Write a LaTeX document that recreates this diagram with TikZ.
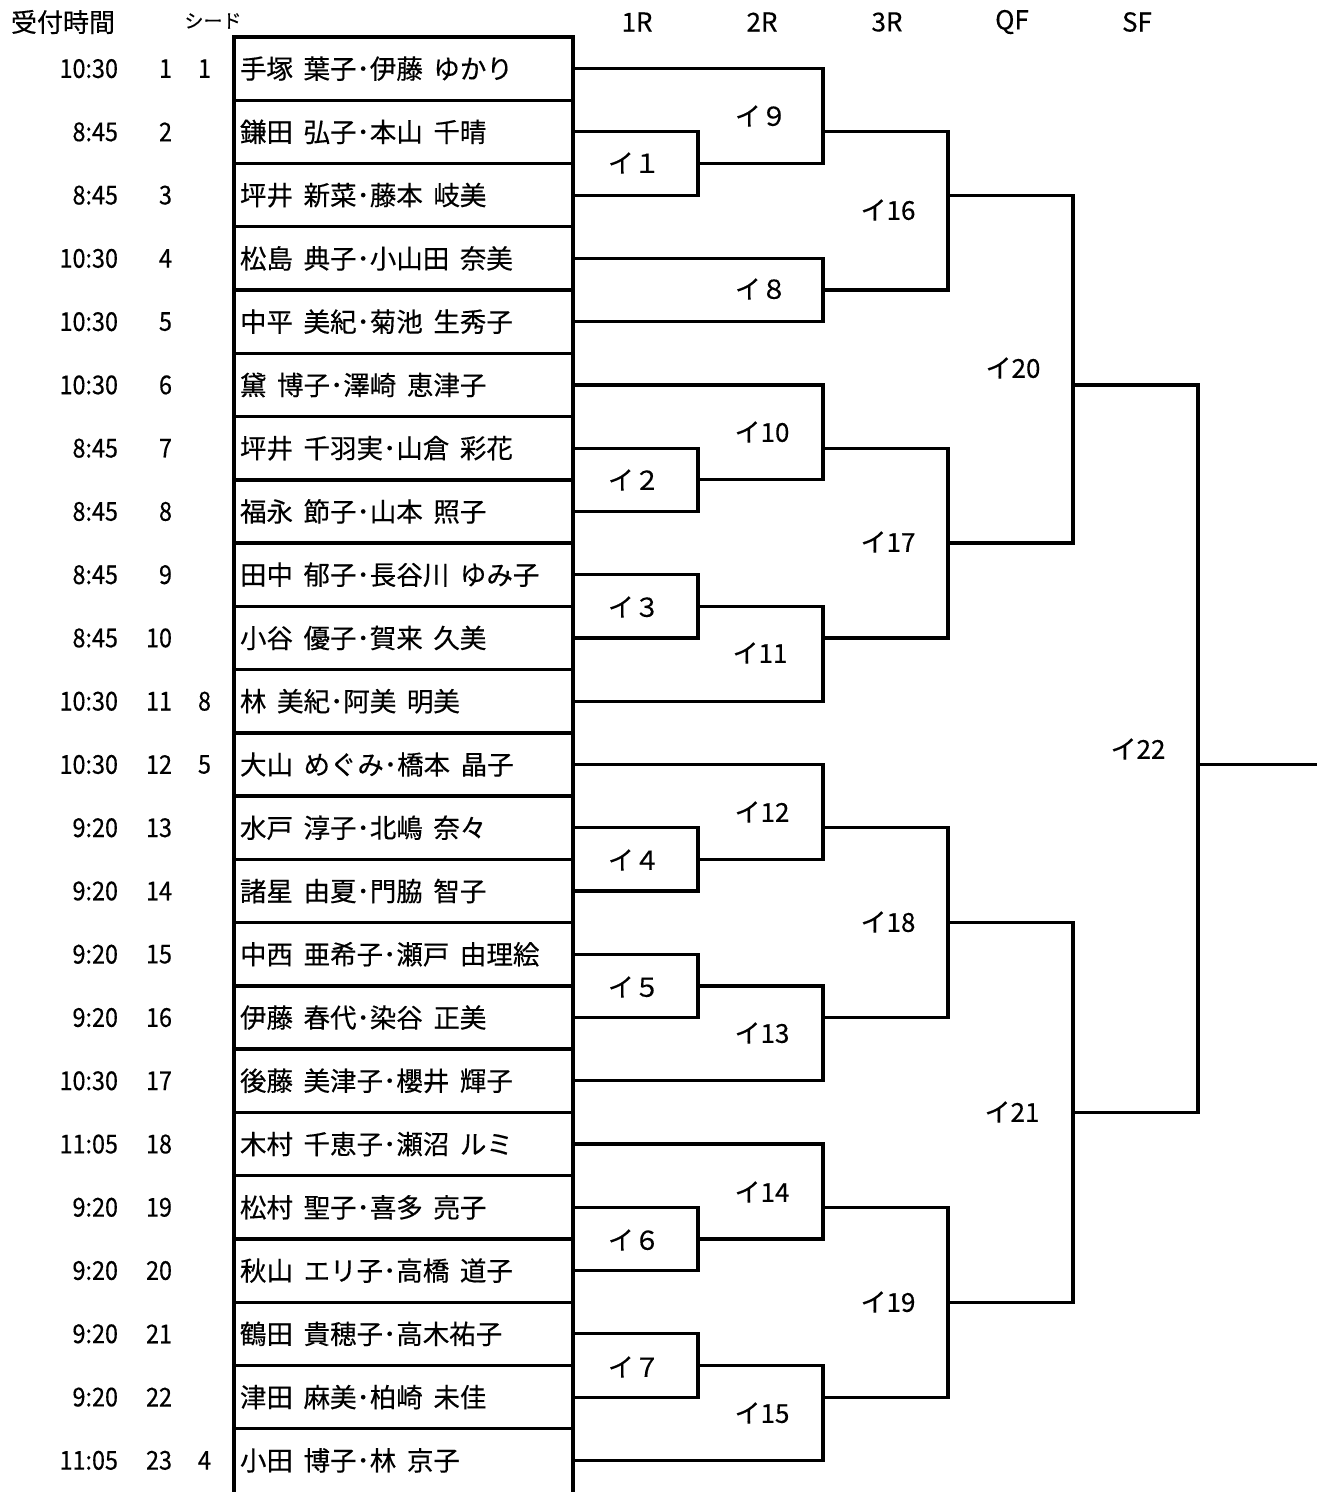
\documentclass[tikz,border=0pt]{standalone}
\usepackage{fontspec}
\setmainfont{Noto Sans CJK JP}[FakeBold=0.35]
\newfontfamily\numf{Noto Sans CJK JP}[FakeStretch=0.9,FakeBold=0.35]
\newcommand\hs{\hspace{0.4em}}
\tikzset{
  cell/.style={inner sep=0pt, outer sep=0pt, font=\numf\fontsize{26}{30}\selectfont},
  timecell/.style={cell, anchor=east},
  namecell/.style={inner xsep=6pt, inner ysep=0pt, outer sep=0pt, text width=327pt, align=left, minimum height=63.26pt, anchor=west, font=\fontsize{26.5}{30}\selectfont},
  boxline/.style={line width=3.4pt},
  bracket/.style={line width=3.2pt},
  lab/.style={inner sep=0pt, font=\fontsize{26}{30}\selectfont},
  head/.style={inner sep=0pt, font=\fontsize{26}{30}\selectfont},
  smallhead/.style={inner sep=0pt, font=\fontsize{19}{22}\selectfont},
}
\begin{document}
\begin{tikzpicture}[x=1pt,y=-1pt]
\useasboundingbox (0,0) rectangle (1317,1492);

% headers
\node[head] (h0) at (63,22) {受付時間};
\node[smallhead] (h1) at (213,21) {シード};
\node[head] (hR1) at (637,22) {1R};
\node[head] (hR2) at (762,22) {2R};
\node[head] (hR3) at (887,22) {3R};
\node[head] (hQF) at (1012,22) {QF};
\node[head] (hSF) at (1137,22) {SF};

% rows
\foreach \k/\t/\n in {
 1/10:30/{手塚\hs 葉子･伊藤\hs ゆかり},
 2/8:45/{鎌田\hs 弘子･本山\hs 千晴},
 3/8:45/{坪井\hs 新菜･藤本\hs 岐美},
 4/10:30/{松島\hs 典子･小山田\hs 奈美},
 5/10:30/{中平\hs 美紀･菊池\hs 生秀子},
 6/10:30/{黛\hs 博子･澤崎\hs 恵津子},
 7/8:45/{坪井\hs 千羽実･山倉\hs 彩花},
 8/8:45/{福永\hs 節子･山本\hs 照子},
 9/8:45/{田中\hs 郁子･長谷川\hs ゆみ子},
 10/8:45/{小谷\hs 優子･賀来\hs 久美},
 11/10:30/{林\hs 美紀･阿美\hs 明美},
 12/10:30/{大山\hs めぐみ･橋本\hs 晶子},
 13/9:20/{水戸\hs 淳子･北嶋\hs 奈々},
 14/9:20/{諸星\hs 由夏･門脇\hs 智子},
 15/9:20/{中西\hs 亜希子･瀬戸\hs 由理絵},
 16/9:20/{伊藤\hs 春代･染谷\hs 正美},
 17/10:30/{後藤\hs 美津子･櫻井\hs 輝子},
 18/11:05/{木村\hs 千恵子･瀬沼\hs ルミ},
 19/9:20/{松村\hs 聖子･喜多\hs 亮子},
 20/9:20/{秋山\hs エリ子･高橋\hs 道子},
 21/9:20/{鶴田\hs 貴穂子･高木祐子},
 22/9:20/{津田\hs 麻美･柏崎\hs 未佳},
 23/11:05/{小田\hs 博子･林\hs 京子}}{
  \pgfmathsetmacro\yy{37+(\k-0.5)*63.26}
  \node[namecell] (r\k) at (234,\yy) {\n};
  \node[timecell] (t\k) at (118,\yy) {\t};
  \node[timecell] (n\k) at (172,\yy) {\k};
}

% seeds
\node[timecell] (s1) at (211,68.63) {1};
\node[timecell] (s8) at (211,701.23) {8};
\node[timecell] (s5) at (211,764.49) {5};
\node[timecell] (s4) at (211,1460.35) {4};

% table lines
\draw[boxline] (r23.south west) -- (r1.north west) -- (r1.north east) -- (r23.south east);
\foreach \k in {1,...,22}{
  \draw[boxline] (r\k.south west) -- (r\k.south east);
}

% match coordinates
\coordinate (m1) at (698,163.52);
\coordinate (m2) at (698,479.82);
\coordinate (m3) at (698,606.34);
\coordinate (m4) at (698,859.38);
\coordinate (m5) at (698,985.9);
\coordinate (m6) at (698,1238.94);
\coordinate (m7) at (698,1365.46);
\coordinate (m9) at (823,131.89);
\coordinate (m8) at (823,290.04);
\coordinate (m10) at (823,448.19);
\coordinate (m11) at (823,637.97);
\coordinate (m12) at (823,827.75);
\coordinate (m13) at (823,1017.53);
\coordinate (m14) at (823,1207.31);
\coordinate (m15) at (823,1397.09);
\coordinate (m16) at (948,195.15);
\coordinate (m17) at (948,543.08);
\coordinate (m18) at (948,922.64);
\coordinate (m19) at (948,1302.2);
\coordinate (m20) at (1073,384.93);
\coordinate (m21) at (1073,1112.42);
\coordinate (m22) at (1198,764.49);
\coordinate (fin) at (1317,764.49);

% bracket
\draw[bracket] (r2.east) -| (m1) |- (r3.east);
\draw[bracket] (r7.east) -| (m2) |- (r8.east);
\draw[bracket] (r9.east) -| (m3) |- (r10.east);
\draw[bracket] (r13.east) -| (m4) |- (r14.east);
\draw[bracket] (r15.east) -| (m5) |- (r16.east);
\draw[bracket] (r19.east) -| (m6) |- (r20.east);
\draw[bracket] (r21.east) -| (m7) |- (r22.east);
\draw[bracket] (r1.east) -| (m9) |- (m1);
\draw[bracket] (r4.east) -| (m8) |- (r5.east);
\draw[bracket] (r6.east) -| (m10) |- (m2);
\draw[bracket] (m3) -| (m11) |- (r11.east);
\draw[bracket] (r12.east) -| (m12) |- (m4);
\draw[bracket] (m5) -| (m13) |- (r17.east);
\draw[bracket] (r18.east) -| (m14) |- (m6);
\draw[bracket] (m7) -| (m15) |- (r23.east);
\draw[bracket] (m9) -| (m16) |- (m8);
\draw[bracket] (m10) -| (m17) |- (m11);
\draw[bracket] (m12) -| (m18) |- (m13);
\draw[bracket] (m14) -| (m19) |- (m15);
\draw[bracket] (m16) -| (m20) |- (m17);
\draw[bracket] (m18) -| (m21) |- (m19);
\draw[bracket] (m20) -| (m22) |- (m21);
\draw[bracket] (m22) -- (fin);

% match labels
\node[lab] (l1) at (634,163) {イ１};
\node[lab] (l2) at (634,480) {イ２};
\node[lab] (l3) at (634,607) {イ３};
\node[lab] (l4) at (634,860) {イ４};
\node[lab] (l5) at (634,987) {イ５};
\node[lab] (l6) at (634,1240) {イ６};
\node[lab] (l7) at (634,1367) {イ７};
\node[lab] (l9) at (761,116) {イ９};
\node[lab] (l8) at (761,289) {イ８};
\node[lab] (l10) at (762,432) {イ10};
\node[lab] (l11) at (760,653) {イ11};
\node[lab] (l12) at (762,812) {イ12};
\node[lab] (l13) at (762,1033) {イ13};
\node[lab] (l14) at (762,1192) {イ14};
\node[lab] (l15) at (762,1413) {イ15};
\node[lab] (l16) at (888,210) {イ16};
\node[lab] (l17) at (888,542) {イ17};
\node[lab] (l18) at (888,922) {イ18};
\node[lab] (l19) at (888,1302) {イ19};
\node[lab] (l20) at (1013,368) {イ20};
\node[lab] (l21) at (1012,1112) {イ21};
\node[lab] (l22) at (1138,749) {イ22};
\end{tikzpicture}
\end{document}
